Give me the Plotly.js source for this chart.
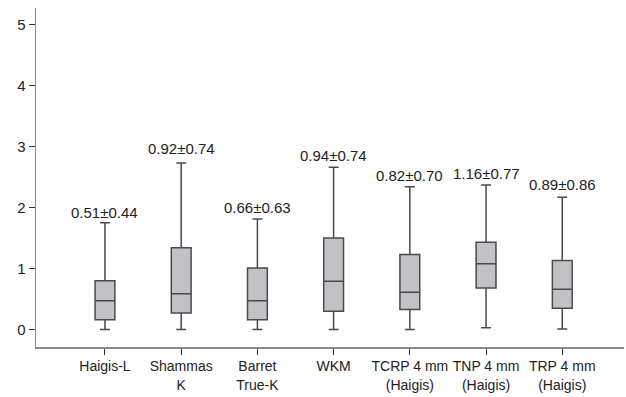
<!DOCTYPE html>
<html>
<head>
<meta charset="utf-8">
<script src="https://cdn.plot.ly/plotly-3.0.1.min.js"></script>
<style>html,body{margin:0;padding:0;background:#fff;}#chart{width:626px;height:397px;}</style>
</head>
<body>
<div id="chart"></div>
<script>
var categories = ["Haigis-L", "Shammas<br>K", "Barret<br>True-K", "WKM", "TCRP 4 mm<br>(Haigis)", "TNP 4 mm<br>(Haigis)", "TRP 4 mm<br>(Haigis)"];
var lowerWhisker = [0.00, 0.00, 0.00, 0.00, 0.00, 0.03, 0.01];
var q1Values     = [0.16, 0.27, 0.16, 0.30, 0.33, 0.68, 0.35];
var medianValues = [0.47, 0.585, 0.47, 0.79, 0.61, 1.08, 0.66];
var q3Values     = [0.80, 1.34, 1.01, 1.50, 1.23, 1.43, 1.13];
var upperWhisker = [1.75, 2.73, 1.81, 2.66, 2.34, 2.37, 2.17];
var meanSdLabels = ["0.51±0.44", "0.92±0.74", "0.66±0.63", "0.94±0.74", "0.82±0.70", "1.16±0.77", "0.89±0.86"];
var labelHeights = [1.92, 2.96, 2.00, 2.85, 2.52, 2.56, 2.37];

var xs = categories.map(function(_, i){ return i; });

var trace = {
  type: 'box',
  x: xs,
  q1: q1Values,
  median: medianValues,
  q3: q3Values,
  lowerfence: lowerWhisker,
  upperfence: upperWhisker,
  width: 0.26,
  whiskerwidth: 0.5,
  fillcolor: '#c2c2c6',
  line: {color: '#4a4a4a', width: 1.5},
  boxpoints: false,
  hoverinfo: 'skip',
  showlegend: false
};

var annotations = meanSdLabels.map(function(t, i){
  return {x: xs[i], y: labelHeights[i], xref: 'x', yref: 'y', text: t, showarrow: false,
          xanchor: 'center', yanchor: 'middle',
          font: {family: 'Liberation Sans, Arial, sans-serif', size: 15, color: '#222'}};
});

var layout = {
  width: 626, height: 397,
  margin: {l: 36, r: 2, t: 8, b: 50},
  paper_bgcolor: '#fff', plot_bgcolor: '#fff',
  font: {family: 'Liberation Sans, Arial, sans-serif', color: '#222'},
  xaxis: {
    range: [-0.905, 6.81],
    tickvals: xs, ticktext: categories,
    showgrid: false, zeroline: false,
    showline: true, linecolor: '#8a8a8a', linewidth: 1.5,
    ticks: 'outside', ticklen: 6, tickcolor: '#333', tickwidth: 1,
    tickfont: {size: 14, color: '#222'}
  },
  yaxis: {
    range: [-0.286, 5.27],
    tickvals: [0,1,2,3,4,5],
    showgrid: false, zeroline: false,
    showline: true, linecolor: '#8a8a8a', linewidth: 1.5,
    ticks: 'outside', ticklen: 6, tickcolor: '#333', tickwidth: 1,
    tickfont: {size: 15, color: '#222'}
  },
  annotations: annotations
};

Plotly.newPlot('chart', [trace], layout, {displayModeBar: false, staticPlot: true});
</script>
</body>
</html>
